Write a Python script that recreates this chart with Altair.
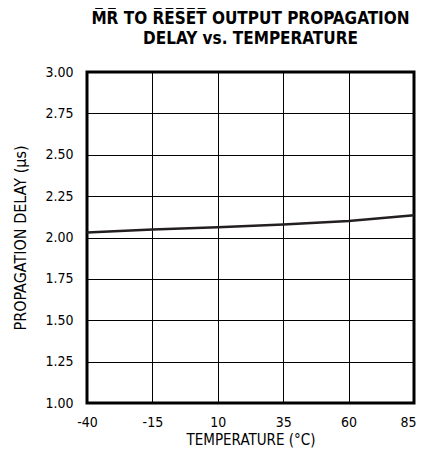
import altair as alt
import pandas as pd

temps = [-40, -15, 10, 35, 60, 85]
delay = [2.03, 2.048, 2.062, 2.078, 2.10, 2.135]
x_ticks = [-40, -15, 10, 35, 60, 85]
y_ticks = [1.00, 1.25, 1.50, 1.75, 2.00, 2.25, 2.50, 2.75, 3.00]

df = pd.DataFrame({"t": temps, "d": delay})

FONT = "DejaVu Sans Condensed, Roboto, sans-serif"
ob = "\u0305"
mr = "".join(c + ob for c in "MR")
reset = "".join(c + ob for c in "RESET")

W, H = 327, 331

line = alt.Chart(df).mark_line(color="#231f20", strokeWidth=2.5).encode(
    x=alt.X("t:Q", scale=alt.Scale(domain=[-40, 85], nice=False, zero=False),
            axis=alt.Axis(values=x_ticks, title="TEMPERATURE (°C)", grid=True,
                          gridColor="black", gridWidth=1, gridOpacity=1,
                          ticks=False, domain=False, labelFont=FONT, labelFontSize=14,
                          labelExpr="toString(datum.value)",
                          labelAlign=alt.expr("datum.value == 85 ? 'right' : 'center'"),
                          labelOffset=alt.expr("datum.value == 85 ? 2 : 0"),
                          labelColor="black", labelPadding=12, titleFont=FONT,
                          titleFontSize=15, titleFontWeight="normal", titleColor="black",
                          titlePadding=3, labelFlush=False)),
    y=alt.Y("d:Q", scale=alt.Scale(domain=[1, 3], nice=False, zero=False),
            axis=alt.Axis(values=y_ticks, format=".2f", title="PROPAGATION DELAY (µs)",
                          grid=True, gridColor="black", gridWidth=1, gridOpacity=1,
                          ticks=False, domain=False, labelFont=FONT, labelFontSize=14,
                          labelColor="black", labelPadding=14, titleFont=FONT,
                          titleFontSize=16, titleFontWeight="normal", titleColor="black",
                          titlePadding=16)),
)

chart = line.properties(
    width=W, height=H,
    title=alt.TitleParams(
        text=[f"{mr} TO {reset} OUTPUT PROPAGATION", "DELAY vs. TEMPERATURE"],
        font=FONT, fontSize=17, fontWeight="bold", color="black",
        anchor="middle", offset=17, lineHeight=20,
    ),
    autosize=alt.AutoSizeParams(type="none"),
    padding={"left": 79, "top": 64, "right": 3, "bottom": 48},
).configure_view(stroke="black", strokeWidth=3)

chart.save("out.html", embed_options={"renderer": "svg", "actions": False})
